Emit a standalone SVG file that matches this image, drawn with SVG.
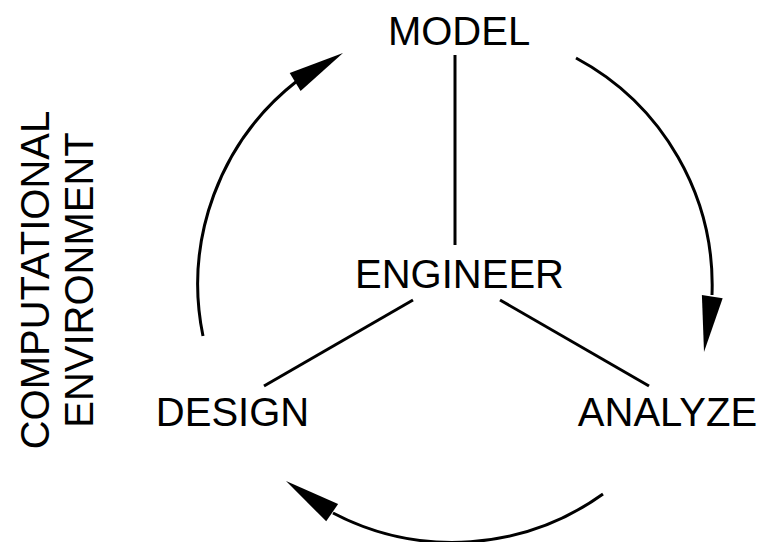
<svg xmlns="http://www.w3.org/2000/svg" width="760" height="542" viewBox="0 0 760 542">
  <style>
    .lbl { font-family: "Liberation Sans", Arial, sans-serif; font-size: 40px; fill: #000; text-anchor: middle; }
    .side { font-family: "Liberation Sans", Arial, sans-serif; font-size: 40px; fill: #000; text-anchor: middle; }
    .edge { fill: none; stroke: #000; stroke-width: 3; }
    .head { fill: #000; stroke: none; }
  </style>
  <defs>
    <path id="arrowhead" class="head" d="M0,0 L-56,-10.5 L-56,10.5 Z"/>
  </defs>
  <rect width="760" height="542" fill="#fff"/>

  <g id="side-label">
    <text class="side" transform="translate(49,280) rotate(-90)">COMPUTATIONAL</text>
    <text class="side" transform="translate(93,280) rotate(-90)">ENVIRONMENT</text>
  </g>

  <g id="connectors">
    <line class="edge" x1="455" y1="55" x2="455" y2="245"/>
    <line class="edge" x1="413" y1="300" x2="264" y2="386"/>
    <line class="edge" x1="500" y1="300" x2="649" y2="386"/>
    <path class="edge" d="M203,336 A258,258 0 0 1 297,81"/>
    <use href="#arrowhead" transform="translate(343,53) rotate(-31.3)"/>
    <path class="edge" d="M576,58 A258,258 0 0 1 712,295"/>
    <use href="#arrowhead" transform="translate(704,352) rotate(98.5)"/>
    <path class="edge" d="M603,494 A258,258 0 0 1 333,513"/>
    <use href="#arrowhead" transform="translate(286,481) rotate(214.5)"/>
  </g>

  <g id="model"><text class="lbl" x="459" y="45">MODEL</text></g>
  <g id="engineer"><text class="lbl" x="459.5" y="288">ENGINEER</text></g>
  <g id="design"><text class="lbl" x="232.5" y="426">DESIGN</text></g>
  <g id="analyze"><text class="lbl" x="667.5" y="426">ANALYZE</text></g>
</svg>
